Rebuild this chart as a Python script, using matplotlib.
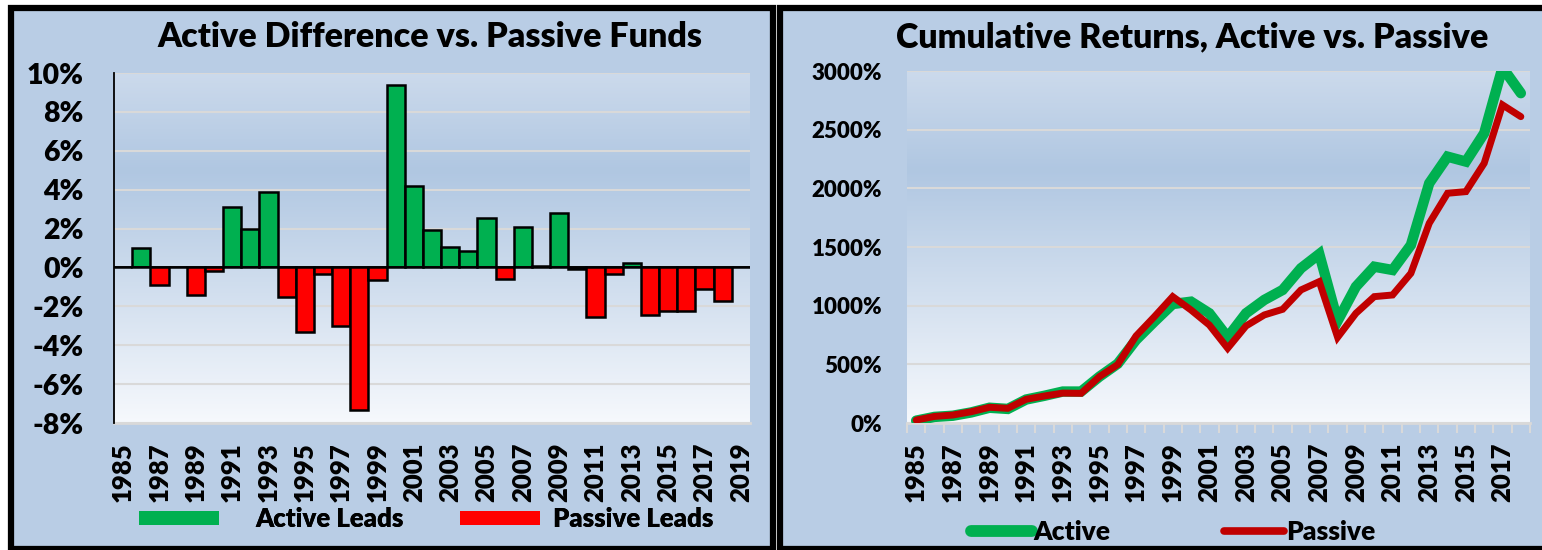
import numpy as np
import matplotlib
matplotlib.use("Agg")
import matplotlib.pyplot as plt
from matplotlib.patches import Rectangle, Patch
from matplotlib.lines import Line2D
from matplotlib.colors import LinearSegmentedColormap

plt.rcParams['font.family'] = ['Lato', 'DejaVu Sans']
plt.rcParams['font.weight'] = 'heavy'
WT = 'heavy'

# ---------------- data ----------------
years_left = list(range(1985, 2020))
active_diff = [0.0, 1.0, -0.9, 0.0, -1.4, -0.2, 3.1, 2.0, 3.9, -1.5,
               -3.3, -0.35, -3.0, -7.35, -0.65, 9.4, 4.2, 1.95, 1.05, 0.85,
               2.55, -0.6, 2.1, 0.05, 2.8, -0.1, -2.55, -0.35, 0.25, -2.45,
               -2.25, -2.25, -1.1, -1.7, np.nan]
left_yticks = [-8, -6, -4, -2, 0, 2, 4, 6, 8, 10]

years_right = list(range(1985, 2019))
active_cum = [20, 52, 62, 90, 130, 120, 200, 232, 268, 268,
              395, 505, 708, 864, 1014, 1034, 935, 731, 935, 1049,
              1134, 1319, 1440, 870, 1162, 1332, 1304, 1517, 2043, 2270,
              2228, 2470, 3030, 2811]
passive_cum = [25, 56, 68, 96, 134, 125, 202, 230, 255, 253,
               395, 498, 742, 906, 1077, 963, 835, 637, 827, 921,
               969, 1134, 1205, 730, 935, 1077, 1091, 1276, 1702, 1958,
               1972, 2214, 2711, 2611]
right_yticks = [0, 500, 1000, 1500, 2000, 2500, 3000]

GREEN = '#00B050'
RED = '#FF0000'
DARKRED = '#C00000'
PANEL = '#B9CDE5'
GRID = '#D9D9D9'

W, H = 1542, 550
fig = plt.figure(figsize=(W / 100, H / 100), dpi=100)
fig.patch.set_facecolor('white')


def fx(px):
    return px / W


def fy(py):
    return (H - py) / H


# panels
for x0, x1 in [(11, 773), (780, 1548)]:
    fig.add_artist(Rectangle((fx(x0), fy(549)), fx(x1) - fx(x0), fy(8) - fy(549),
                             transform=fig.transFigure, facecolor=PANEL,
                             edgecolor='black', linewidth=4.5, zorder=0))

grad_cmap = LinearSegmentedColormap.from_list(
    'g', [(0.0, (0.965, 0.975, 0.99)), (0.72, (0.69, 0.78, 0.885)),
          (1.0, (0.80, 0.855, 0.925))])
grad = np.linspace(0, 1, 256).reshape(-1, 1)


def add_grad(ax):
    ax.patch.set_visible(False)
    ax.imshow(grad, aspect='auto', cmap=grad_cmap, extent=[0, 1, 1, 0],
              transform=ax.transAxes, zorder=-5, interpolation='bilinear')


# ---------------- left chart ----------------
axL = fig.add_axes([fx(114), fy(423), fx(750) - fx(114), fy(73) - fy(423)])
add_grad(axL)
xl = np.arange(len(years_left))
vals = np.array(active_diff, dtype=float)
colors = [GREEN if (not np.isnan(v) and v >= 0) else RED for v in vals]
axL.bar(xl, np.nan_to_num(vals), width=1.0, color=colors, edgecolor='black',
        linewidth=1.8, zorder=3)
axL.set_xlim(-0.5, len(years_left) - 0.5)
axL.set_ylim(-8, 10)
axL.set_yticks(left_yticks)
axL.set_yticklabels([f'{v}%' for v in left_yticks], fontsize=20.5, fontweight=WT)
axL.set_xticks(xl[::2])
axL.set_xticklabels([str(y) for y in years_left[::2]], rotation=90,
                    fontsize=18.5, fontweight=WT)
axL.tick_params(axis='both', length=0)
axL.tick_params(axis='y', pad=22)
axL.tick_params(axis='x', pad=14)
axL.grid(axis='y', color=GRID, linewidth=1.5, zorder=1)
axL.set_axisbelow(True)
for s in ['top', 'right', 'bottom']:
    axL.spines[s].set_visible(False)
axL.spines['left'].set_color('black')
axL.spines['left'].set_linewidth(1.3)
axL.spines['left'].set_zorder(4)
axL.axhline(0, color='black', linewidth=1.3, zorder=4)
axL.axhline(-8, color=GRID, linewidth=2, zorder=1, clip_on=False)
fig.text(fx(430), fy(37), 'Active Difference vs. Passive Funds', ha='center',
         va='center', fontsize=24.5, fontweight=WT)

LEGFS = 18.5
em = LEGFS * 100 / 72.0
for handle, x_left, pad_px in [
        (Patch(facecolor=GREEN, edgecolor='none', label='Active Leads'), 139, 36),
        (Patch(facecolor=RED, edgecolor='none', label='Passive Leads'), 460, 13)]:
    fig.add_artist(fig.legend(handles=[handle], loc='center left',
                              bbox_to_anchor=(fx(x_left), fy(519)), frameon=False,
                              borderpad=0, borderaxespad=0,
                              handlelength=80 / em, handleheight=0.47,
                              handletextpad=pad_px / em,
                              prop={'weight': WT, 'size': LEGFS}))

# ---------------- right chart ----------------
axR = fig.add_axes([fx(907), fy(423), fx(1530) - fx(907), fy(71) - fy(423)])
add_grad(axR)
xr = np.arange(len(years_right))
axR.plot(xr, active_cum, color=GREEN, linewidth=7.5, solid_joinstyle='miter',
         solid_capstyle='round', zorder=3)
axR.plot(xr, passive_cum, color=DARKRED, linewidth=5, solid_joinstyle='miter',
         solid_capstyle='round', zorder=4)
axR.set_xlim(-0.5, len(years_right) - 0.5)
axR.set_ylim(0, 3000)
axR.set_yticks(right_yticks)
axR.set_yticklabels([f'{v}%' for v in right_yticks], fontsize=16, fontweight=WT)
axR.set_xticks(xr[::2])
axR.set_xticklabels([str(y) for y in years_right[::2]], rotation=90,
                    fontsize=18.5, fontweight=WT)
axR.set_xticks(np.arange(-0.5, len(years_right)), minor=True)
axR.tick_params(axis='x', which='major', length=0, pad=14)
axR.tick_params(axis='x', which='minor', length=7, width=1.5, color=GRID,
                direction='out')
axR.tick_params(axis='y', length=0, pad=18)
axR.grid(axis='y', color=GRID, linewidth=1.5, zorder=1)
axR.set_axisbelow(True)
for s in ['top', 'right', 'left']:
    axR.spines[s].set_visible(False)
axR.spines['bottom'].set_color(GRID)
axR.spines['bottom'].set_linewidth(2)
fig.text(fx(1192), fy(37), 'Cumulative Returns, Active vs. Passive', ha='center',
         va='center', fontsize=24.5, fontweight=WT)
fig.legend(handles=[Line2D([], [], color=GREEN, linewidth=8.5, solid_capstyle='round',
                           label='Active'),
                    Line2D([], [], color=DARKRED, linewidth=5.5, solid_capstyle='round',
                           label='Passive')],
           loc='center', bbox_to_anchor=(fx(1173), fy(532)), ncol=2, frameon=False,
           handlelength=2.3, handletextpad=0.05, columnspacing=4.3,
           prop={'weight': WT, 'size': 19})

fig.savefig('out.png', dpi=100, facecolor=fig.get_facecolor())
